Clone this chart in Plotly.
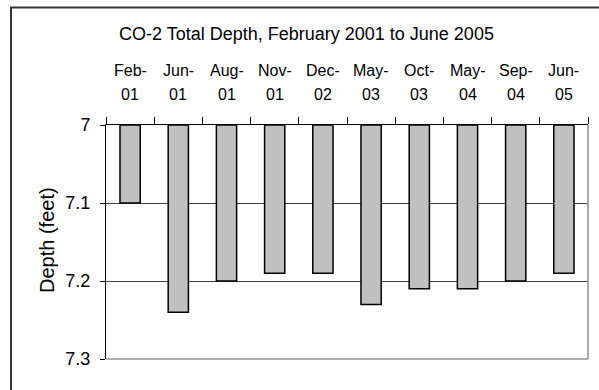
import plotly.graph_objects as go

# Survey dates and measured total depth of well CO-2
months = ["Feb-", "Jun-", "Aug-", "Nov-", "Dec-", "May-", "Oct-", "May-", "Sep-", "Jun-"]
years = ["01", "01", "01", "01", "02", "03", "03", "04", "04", "05"]
depth_ft = [7.10, 7.24, 7.20, 7.19, 7.19, 7.23, 7.21, 7.21, 7.20, 7.19]

reference_depth = 7.0
y_ticks = [7.0, 7.1, 7.2, 7.3]
y_tick_text = ["7", "7.1", "7.2", "7.3"]

dates = [m + y for m, y in zip(months, years)]

W, H = 599, 390
ML, MR, MT, MB = 106, 11, 125, 31
PW, PH = W - ML - MR, H - MT - MB


def px_x(p):
    return (p - ML) / PW


def px_y(p):
    return 1 - (p - MT) / PH


font = "Liberation Sans, Arial, sans-serif"

fig = go.Figure(go.Bar(
    x=dates,
    y=[d - reference_depth for d in depth_ft],
    base=reference_depth,
    width=0.42,
    marker=dict(color="#C0C0C0", line=dict(color="#000000", width=1.5)),
))

# two-row date labels above the top axis
date_labels = []
for d, m, y in zip(dates, months, years):
    date_labels.append(dict(text=m, xref="x", yref="paper", x=d, y=px_y(71),
                            xanchor="center", yanchor="middle", showarrow=False,
                            font=dict(size=16)))
    date_labels.append(dict(text=y, xref="x", yref="paper", x=d, y=px_y(94.5),
                            xanchor="center", yanchor="middle", showarrow=False,
                            font=dict(size=16)))

fig.update_layout(
    width=W, height=H,
    margin=dict(l=ML, r=MR, t=MT, b=MB),
    paper_bgcolor="white", plot_bgcolor="white",
    showlegend=False,
    font=dict(family=font, color="#000000"),
    xaxis=dict(
        type="category", side="top",
        showline=True, linecolor="#000000", linewidth=1,
        ticks="outside", tickson="boundaries", ticklen=7, tickcolor="#000000",
        showgrid=False, showticklabels=False,
    ),
    yaxis=dict(
        range=[7.3, 7.0],
        tickvals=y_ticks, ticktext=y_tick_text,
        showline=True, linecolor="#000000", linewidth=1,
        ticks="outside", ticklen=5, tickcolor="#000000",
        showgrid=True, gridcolor="#404040", gridwidth=1,
        zeroline=False,
        tickfont=dict(size=18), ticklabelstandoff=6,
    ),
    annotations=[
        dict(text="CO-2 Total Depth, February 2001 to June 2005",
             xref="paper", yref="paper", x=px_x(306.5), y=px_y(33.5),
             xanchor="center", yanchor="middle", showarrow=False,
             font=dict(size=18)),
        dict(text="Depth (feet)", textangle=-90,
             xref="paper", yref="paper", x=px_x(47), y=px_y(240),
             xanchor="center", yanchor="middle", showarrow=False,
             font=dict(size=20)),
    ] + date_labels,
    shapes=[
        # right and bottom edges of the plot area
        dict(type="line", xref="paper", yref="paper", x0=1, x1=1, y0=0, y1=1,
             line=dict(color="#909090", width=1.5)),
        dict(type="line", xref="paper", yref="paper", x0=0, x1=1, y0=0, y1=0,
             line=dict(color="#909090", width=1.5)),
        # chart frame
        dict(type="rect", xref="paper", yref="paper",
             x0=px_x(11), x1=px_x(640), y0=px_y(430), y1=px_y(7.5),
             line=dict(color="#333333", width=2), layer="above"),
    ],
)

fig.write_html("out.html")
